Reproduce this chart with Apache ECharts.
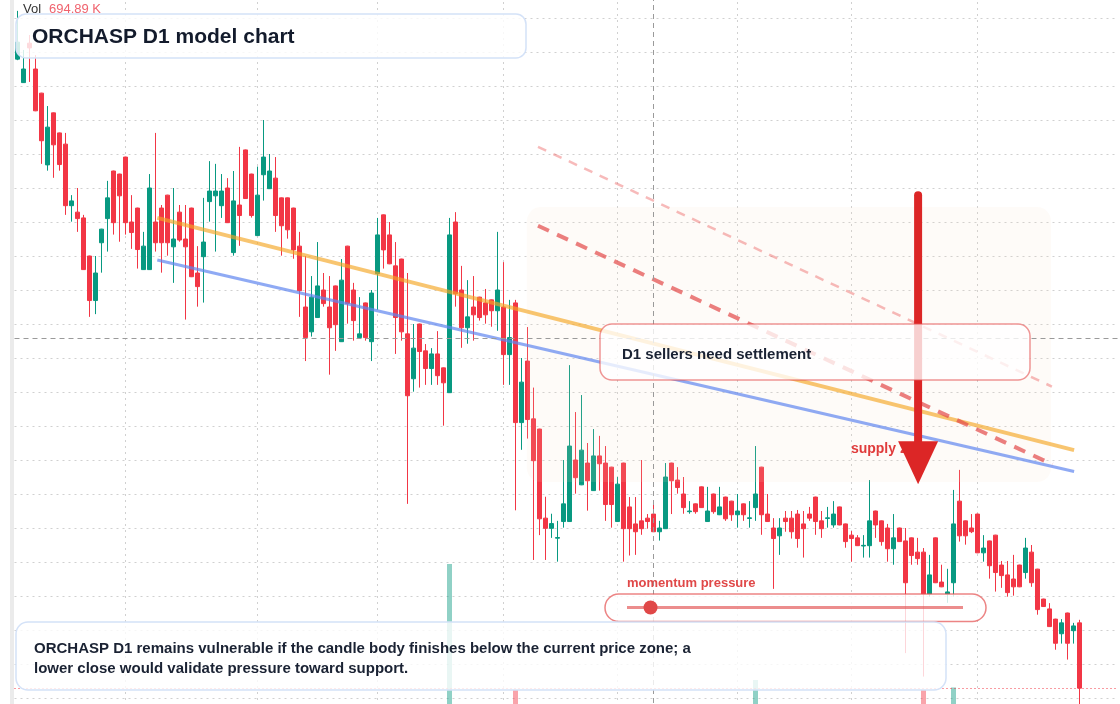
<!DOCTYPE html>
<html>
<head>
<meta charset="utf-8">
<title>ORCHASP D1 model chart</title>
<script src="https://cdn.jsdelivr.net/npm/echarts@6.0.0/dist/echarts.min.js"></script>
<style>
html,body{margin:0;padding:0;background:#ffffff;overflow:hidden}
#chart{width:1120px;height:704px}
</style>
</head>
<body>
<div id="chart"></div>
<script>
// ---------------- data ----------------
const opens = [38.79,38.10,39.26,38.50,37.79,35.68,37.21,36.62,36.29,34.48,
34.29,34.12,33.00,31.69,33.39,34.10,35.50,35.41,35.91,34.00,
34.41,32.60,32.60,34.00,34.41,34.79,33.27,34.29,33.50,34.41,
32.50,32.98,34.60,34.77,34.48,35.00,33.10,34.50,36.12,35.41,
33.60,35.39,34.98,35.29,34.71,34.71,34.41,33.29,31.50,30.77,
31.19,32.00,31.50,32.12,30.48,33.29,32.00,30.60,31.62,30.48,
32.48,34.21,33.62,32.71,32.91,30.71,29.39,31.00,30.21,29.69,
30.12,29.71,28.98,34.00,32.00,30.89,31.50,31.79,31.62,31.71,
31.39,31.50,30.10,31.62,28.10,29.91,28.21,27.91,25.29,24.99,
24.70,25.19,25.19,27.00,26.27,26.91,26.10,27.12,26.91,26.79,
25.19,26.91,25.62,25.12,25.21,25.29,25.41,24.89,24.98,26.91,
26.41,26.00,25.48,25.71,26.21,25.19,26.00,25.39,25.91,25.79,
25.39,25.71,25.28,25.60,26.79,25.41,25.00,24.77,25.29,25.29,
25.41,25.12,25.41,25.91,25.21,25.28,25.09,25.62,25.12,24.79,
24.71,24.47,24.48,25.50,25.21,25.00,24.39,25.00,24.62,24.71,
24.29,24.29,23.06,24.71,23.41,23.06,23.39,25.79,25.21,25.00,
25.41,24.27,24.62,24.79,23.91,23.62,23.50,23.91,23.69,24.29,
23.79,22.91,22.62,22.32,21.89,22.50,21.98,22.21];

const closes = [39.29,38.50,39.12,37.27,36.39,36.79,36.27,35.69,34.48,34.62,
34.10,32.60,31.69,32.50,33.79,34.71,33.98,34.77,33.98,33.69,
33.19,33.29,35.00,33.39,33.39,33.39,33.50,33.47,33.27,32.39,
32.10,33.41,34.91,34.91,34.91,33.98,34.62,34.19,34.69,34.19,
34.79,35.91,35.50,34.19,33.89,33.77,33.18,31.98,30.60,31.79,
32.12,31.60,30.89,30.98,32.29,31.60,31.10,30.71,30.60,31.91,
33.62,33.18,32.77,31.19,30.77,28.89,30.29,30.19,29.69,30.12,
29.48,29.27,33.62,31.89,30.89,31.21,31.27,31.19,31.27,31.39,
32.00,30.10,30.60,28.10,29.29,28.19,26.98,25.27,24.99,25.13,
24.72,25.71,27.41,26.48,27.29,26.39,27.12,26.89,25.69,25.69,
26.29,24.98,24.98,24.89,24.98,25.19,24.89,25.00,26.50,26.39,
26.19,25.60,25.50,25.48,25.60,25.50,25.48,25.62,25.27,25.39,
25.50,25.39,25.30,26.00,25.39,25.19,24.69,25.00,25.19,24.89,
24.69,24.98,25.29,25.19,24.98,25.30,25.41,25.09,24.60,24.69,
24.48,24.49,25.21,25.09,24.60,24.39,24.71,24.60,23.39,24.19,
24.10,23.06,23.62,23.39,23.27,23.12,25.12,24.77,24.77,24.89,
24.27,24.41,23.89,23.69,23.60,23.10,23.27,23.27,24.41,23.39,
22.60,22.69,22.10,21.61,22.21,21.61,22.12,20.29];

const lows = [38.76,38.09,38.12,37.26,35.71,35.51,35.30,35.51,34.21,34.01,
33.71,32.59,31.21,31.29,32.51,33.13,33.63,33.42,33.63,33.21,
32.63,32.59,32.59,33.13,32.51,33.01,32.21,33.42,31.13,32.38,
31.51,31.63,34.01,33.13,34.12,33.97,33.01,33.30,34.68,34.13,
33.59,34.63,34.97,33.71,33.01,33.51,32.92,31.21,29.91,30.63,
31.18,31.51,29.51,30.21,30.47,31.01,30.51,30.59,30.51,29.91,
31.42,32.63,32.76,30.12,30.51,25.71,29.01,29.13,29.21,29.21,
29.21,28.01,28.97,31.51,30.30,30.42,30.51,31.10,31.01,30.92,
30.80,29.21,29.21,25.52,27.30,27.63,24.06,24.79,24.06,24.71,
24.01,25.01,25.18,26.01,26.26,25.51,26.09,26.10,25.21,25.01,
25.18,24.01,24.19,24.21,24.80,24.98,24.88,24.63,24.97,25.41,
26.01,25.42,25.42,25.42,25.59,25.18,25.42,25.38,25.21,25.21,
25.01,25.21,25.01,25.21,24.80,25.18,23.21,24.21,24.89,24.69,
24.42,24.13,25.21,24.80,24.71,25.01,25.01,25.08,24.42,24.01,
24.47,24.13,24.13,24.71,24.48,24.01,23.92,24.59,21.32,23.92,
23.92,20.63,22.98,23.38,23.26,22.80,22.98,24.60,24.51,24.85,
24.26,24.01,23.51,23.13,23.24,22.98,23.01,23.26,23.51,23.27,
22.45,22.68,22.09,21.42,21.60,21.13,21.60,19.59];

const highs = [40.21,39.06,39.50,38.91,37.80,37.41,37.22,36.63,36.62,34.79,
35.00,34.21,33.01,33.00,33.80,35.21,35.51,35.42,35.92,34.79,
34.42,33.71,35.41,36.62,34.50,34.80,35.00,34.50,34.50,34.42,
33.29,34.71,35.79,35.71,35.41,35.29,35.50,36.21,36.13,35.42,
35.63,37.00,36.00,35.91,34.72,34.72,34.42,33.71,33.00,32.41,
33.41,32.50,32.41,32.13,32.91,33.30,32.21,31.79,31.63,32.00,
34.12,34.22,34.00,33.41,32.92,32.50,31.00,31.01,30.41,30.29,
30.79,29.72,34.12,34.29,32.71,32.29,32.41,31.80,32.03,31.72,
33.71,32.82,31.71,31.71,30.00,30.91,29.13,27.92,25.92,25.42,
25.21,27.00,29.79,28.41,28.91,27.50,27.91,27.71,27.41,26.80,
26.50,26.92,25.91,25.91,27.00,25.41,25.71,25.21,26.91,26.92,
26.79,26.50,25.79,25.72,26.22,26.21,26.01,26.21,25.92,25.80,
26.00,25.72,25.79,27.41,26.80,26.00,25.29,25.29,25.50,25.50,
25.53,25.50,25.62,25.92,25.50,25.62,25.79,25.63,25.13,24.91,
24.79,24.79,26.41,25.51,25.22,25.12,25.41,25.01,25.00,24.72,
24.71,24.41,24.21,24.72,23.92,23.80,26.12,26.71,25.22,25.41,
25.42,24.79,24.63,24.80,24.03,24.03,24.21,23.92,24.71,24.50,
23.80,22.92,22.79,22.33,22.32,22.51,22.21,22.30];

const volumes = [912400,684300,538900,801200,873500,652100,597800,541300,905600,433200,
476900,758400,822700,611500,489300,566800,702400,458100,634900,412700,
587300,503600,748200,695400,528100,612900,571400,446800,659300,713500,
498200,583700,642100,517600,455300,608900,676400,589200,631700,482500,
598300,721600,468700,553900,624800,507200,586400,669100,792300,614500,
633800,441900,717200,602600,688900,645300,538700,412300,559600,703800,
836200,674500,521800,709400,658200,887600,594100,546300,478900,463500,
517800,605200,1680000,862400,631900,574300,492600,438400,465700,421900,
582300,713600,561800,1050000,735900,691200,846300,918700,702500,548300,
563900,652700,901300,684100,727800,593600,612400,487200,639500,571800,
604300,756100,588900,532400,547600,476300,694890,458700,712900,583100,
452600,497300,398400,421500,468900,443700,472100,436800,489500,452300,
417600,439900,405200,1100000,723400,486100,612800,537400,426500,468300,
503700,527900,402800,512600,476400,418900,463200,487700,529300,548600,
437100,412900,668400,532700,497800,556200,574900,482300,812600,563400,
548100,1050000,671300,724800,582600,613700,1062500,768900,593400,488100,
672300,541700,618200,689500,577800,623100,594600,587200,648900,673400,
742600,562800,698700,763100,612500,786400,598100,934200];

// month boundaries (vertical grid lines), by candle index
const monthStartIdx = [18, 40, 60, 81, 100, 120, 139, 160];
// crosshair position (candle index, price)
const crosshair = { index: 106, price: 30.59 };
// drawn trend lines: [candle index, price] end points
const orangeTrend = [[23.3, 34.12], [176.1, 27.29]];
const blueTrend = [[23.3, 32.88], [176.1, 26.66]];
const upperChannel = [[86.75, 36.21], [172.4, 29.16]];
const lowerChannel = [[86.75, 33.89], [172.5, 26.87]];
// annotations in data units
const supplyZone = { from: 84.9, to: 172.25, top: 34.44, bottom: 26.35 };
const arrowAnno = { at: 150.1, from: 34.79, to: 26.29 };
const supplyLabel = { at: 138.9, price: 27.35, text: 'supply zone' };
// texts
const titleText = 'ORCHASP D1 model chart';
const calloutText = 'D1 sellers need settlement';
const noteLines = ['ORCHASP D1 remains vulnerable if the candle body finishes below the current price zone; a',
                   'lower close would validate pressure toward support.'];
const momentumLabel = 'momentum pressure';
const momentumLevel = 0.07;

// category labels: trading days
const categories = (function () {
  const out = [];
  const d = new Date(Date.UTC(2024, 0, 2));
  while (out.length < opens.length) {
    const wd = d.getUTCDay();
    if (wd !== 0 && wd !== 6) out.push(d.toISOString().slice(0, 10));
    d.setUTCDate(d.getUTCDate() + 1);
  }
  return out;
})();
const PAD_SLOTS = 6;
const axisCats = categories.concat(Array.from({ length: PAD_SLOTS }, (_, k) => 'pad-' + k));
const slots = axisCats.length;

// ---------------- chart ----------------
const UP = '#089981', DOWN = '#f23645';
const FONT = "'Liberation Sans', Arial, Helvetica, sans-serif";
const candleData = opens.map((o, i) => [o, closes[i], lows[i], highs[i]]);
const volData = volumes.map((v, i) => ({
  value: v,
  itemStyle: { color: closes[i] >= opens[i] ? 'rgba(8,153,129,0.45)' : 'rgba(242,54,69,0.45)' }
}));
const lastClose = closes[closes.length - 1];

const chart = echarts.init(document.getElementById('chart'), null, { renderer: 'canvas', width: 1120, height: 704 });

const overlayLine = (data, style, z) => ({
  type: 'line', xAxisIndex: 1, yAxisIndex: 0, data: data, symbol: 'none', silent: true,
  lineStyle: style, z: z, animation: false
});

const option = {
  animation: false,
  backgroundColor: '#ffffff',
  grid: [
    { left: 14.5, top: -16, width: 1104, height: 782, containLabel: false, outerBoundsMode: 'none', show: false },
    { left: 14.5, top: 400, width: 1104, height: 500, containLabel: false, outerBoundsMode: 'none', show: false }
  ],
  xAxis: [
    { type: 'category', gridIndex: 0, data: axisCats, boundaryGap: true,
      axisLine: { show: false }, axisTick: { show: false }, axisLabel: { show: false }, splitLine: { show: false } },
    { type: 'value', gridIndex: 0, min: -0.5, max: slots - 0.5, show: false, splitLine: { show: false } },
    { type: 'category', gridIndex: 1, data: axisCats, boundaryGap: true, show: false }
  ],
  yAxis: [
    { type: 'value', gridIndex: 0, min: 18, max: 41, interval: 1, scale: false,
      axisLine: { show: false }, axisTick: { show: false }, axisLabel: { show: false },
      splitLine: { show: true, lineStyle: { color: '#d0d0d0', type: [2, 4], width: 1 } } },
    { type: 'value', gridIndex: 1, min: 0, max: 2500000, show: false, splitLine: { show: false } }
  ],
  series: [
    { // vertical (monthly) grid lines, under the candles
      type: 'line', xAxisIndex: 1, yAxisIndex: 0, data: [], z: 0, silent: true,
      markLine: { z: 0, silent: true, symbol: ['none', 'none'], label: { show: false }, animation: false,
        lineStyle: { color: '#d0d0d0', type: [2, 4], width: 1 },
        data: monthStartIdx.map(v => ({ xAxis: v })) }
    },
    { type: 'bar', xAxisIndex: 2, yAxisIndex: 1, data: volData, barWidth: 5, z: 1, silent: true },
    { type: 'candlestick', xAxisIndex: 0, yAxisIndex: 0, data: candleData, barWidth: 4, z: 2, silent: true,
      itemStyle: { color: UP, color0: DOWN, borderColor: UP, borderColor0: DOWN, borderWidth: 1 },
      markLine: { z: 3, silent: true, symbol: ['none', 'none'], label: { show: false }, animation: false,
        lineStyle: { color: '#f23645', type: [1, 3], width: 1 },
        data: [{ yAxis: lastClose }] }
    },
    overlayLine(orangeTrend, { color: 'rgba(245,166,35,0.65)', width: 4 }, 6),
    overlayLine(blueTrend, { color: 'rgba(96,134,240,0.7)', width: 3 }, 6),
    overlayLine(upperChannel, { color: 'rgba(235,90,90,0.42)', width: 2.5, type: [9, 8] }, 6),
    overlayLine(lowerChannel, { color: 'rgba(226,72,72,0.7)', width: 4, type: [12, 9] }, 6),
    { // crosshair
      type: 'line', xAxisIndex: 1, yAxisIndex: 0, data: [], z: 7, silent: true,
      markLine: { z: 7, silent: true, symbol: ['none', 'none'], label: { show: false }, animation: false,
        lineStyle: { color: '#9a9a9a', type: [5, 4], width: 1 },
        data: [{ xAxis: crosshair.index }, { yAxis: crosshair.price }] }
    }
  ]
};
chart.setOption(option);

// ---------------- annotations ----------------
const px = (x, y) => chart.convertToPixel({ seriesIndex: 3 }, [x, y]);
const els = [];
const txt = (text, x, y, font, fill, z) => ({
  type: 'text', z: z, silent: true,
  style: { text: text, x: x, y: y, font: font, fill: fill,
    align: 'left', verticalAlign: 'middle', textAlign: 'left', textVerticalAlign: 'middle' }
});

// left gray strip
els.push({ type: 'rect', z: 30, silent: true, shape: { x: 10, y: 0, width: 4, height: 704 }, style: { fill: '#ebebeb' } });

// supply zone (over candles)
const z0 = px(supplyZone.from, supplyZone.top), z1 = px(supplyZone.to, supplyZone.bottom);
els.push({ type: 'rect', z: 5, silent: true,
  shape: { x: z0[0], y: z0[1], width: z1[0] - z0[0], height: z1[1] - z0[1], r: 14 },
  style: { fill: 'rgba(250,225,200,0.12)' } });

// supply zone label
const sl = px(supplyLabel.at, supplyLabel.price);
els.push(txt(supplyLabel.text, sl[0], sl[1] + 1, 'bold 14px ' + FONT, '#e03c3c', 8));

// arrow
const a0 = px(arrowAnno.at, arrowAnno.from), a1 = px(arrowAnno.at, arrowAnno.to);
els.push({ type: 'line', z: 9, silent: true,
  shape: { x1: a0[0], y1: a0[1], x2: a1[0], y2: a1[1] - 40 },
  style: { stroke: '#dc2626', lineWidth: 8, lineCap: 'round' } });
els.push({ type: 'polygon', z: 9, silent: true,
  shape: { points: [[a1[0] - 20, a1[1] - 43], [a1[0] + 20, a1[1] - 43], [a1[0], a1[1]]] },
  style: { fill: '#dc2626' } });

// title box
els.push({ type: 'rect', z: 20, silent: true, shape: { x: 16, y: 14, width: 510, height: 44, r: 10 },
  style: { fill: 'rgba(255,255,255,0.82)', stroke: '#d4e2f8', lineWidth: 1.5 } });
els.push(txt(titleText, 32, 37, 'bold 21px ' + FONT, '#131b2c', 21));

// volume readout
els.push(txt('Vol', 23, 9.5, '13px ' + FONT, '#333333', 21));
els.push(txt((volumes[crosshair.index] / 1000).toFixed(2) + ' K', 49, 9.5, '13px ' + FONT, '#f0636e', 21));

// seller callout
els.push({ type: 'rect', z: 20, silent: true, shape: { x: 600, y: 324, width: 430, height: 56, r: 12 },
  style: { fill: 'rgba(255,255,255,0.78)', stroke: 'rgba(228,80,80,0.6)', lineWidth: 1.5 } });
els.push(txt(calloutText, 622, 354.5, 'bold 15px ' + FONT, '#1a2233', 21));

// momentum gauge
els.push(txt(momentumLabel, 627, 583, 'bold 13px ' + FONT, '#e04848', 21));
els.push({ type: 'rect', z: 20, silent: true, shape: { x: 605, y: 594, width: 381, height: 27.5, r: 13.75 },
  style: { fill: 'rgba(255,255,255,0.8)', stroke: 'rgba(228,80,80,0.7)', lineWidth: 1.5 } });
els.push({ type: 'line', z: 21, silent: true, shape: { x1: 627, y1: 607.5, x2: 963, y2: 607.5 },
  style: { stroke: 'rgba(226,80,80,0.65)', lineWidth: 3 } });
els.push({ type: 'circle', z: 22, silent: true, shape: { cx: 627 + (963 - 627) * momentumLevel, cy: 607.5, r: 7 },
  style: { fill: '#e04848' } });

// note box
els.push({ type: 'rect', z: 20, silent: true, shape: { x: 16, y: 622, width: 930, height: 68, r: 12 },
  style: { fill: 'rgba(255,255,255,0.8)', stroke: '#d4e2f8', lineWidth: 1.5 } });
els.push(txt(noteLines[0], 34, 649, 'bold 15px ' + FONT, '#1a2233', 21));
els.push(txt(noteLines[1], 34, 668.5, 'bold 15px ' + FONT, '#1a2233', 21));

chart.setOption({ graphic: { elements: els } });
</script>
</body>
</html>
